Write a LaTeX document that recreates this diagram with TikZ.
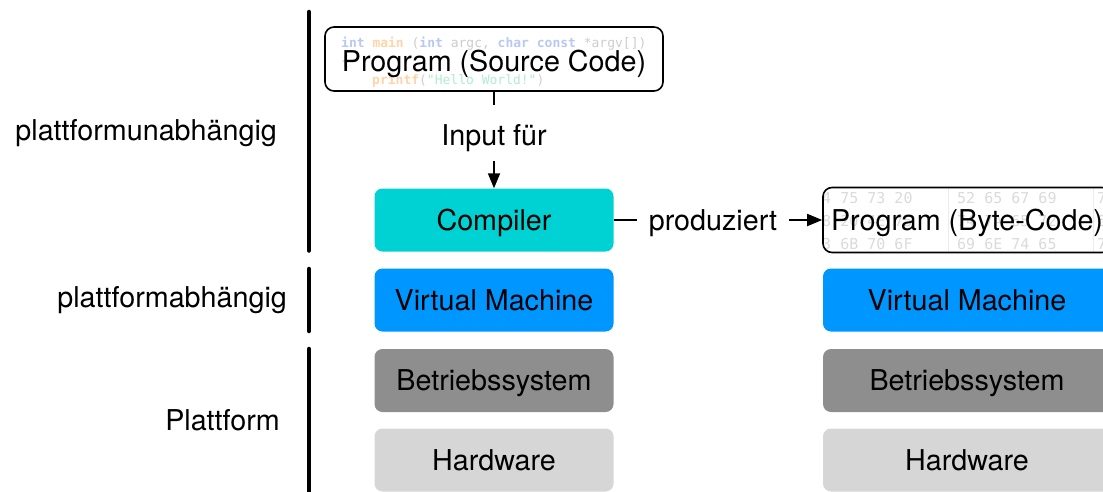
\documentclass[tikz,border=0pt]{standalone}
\usepackage{fontspec}
\setmainfont{TeX Gyre Heros}
\newfontfamily\codefont{DejaVu Sans Mono}
\usetikzlibrary{arrows.meta}

\definecolor{compilercol}{RGB}{0,210,211}
\definecolor{vmcol}{RGB}{0,150,255}
\definecolor{oscol}{RGB}{142,142,142}
\definecolor{hwcol}{RGB}{214,214,214}
\definecolor{kwblue}{RGB}{185,200,242}
\definecolor{kworange}{RGB}{255,212,168}
\definecolor{codegray}{RGB}{204,204,204}
\definecolor{strgreen}{RGB}{176,236,208}
\definecolor{hexgray}{RGB}{218,218,218}
\definecolor{sepgray}{RGB}{236,236,236}

\begin{document}
\begin{tikzpicture}[x=1pt,y=-1pt,
  bigtext/.style={font=\fontsize{28.7}{34}\selectfont, text height=20.6pt, text depth=0pt, inner sep=0pt},
  layer/.style={bigtext, rounded corners=8pt, minimum height=63pt},
  leftcol/.style={layer, minimum width=239pt},
  rightcol/.style={layer, minimum width=288pt},
  progbox/.style={bigtext, draw=black, line width=1.6pt, rounded corners=9pt},
  sidelabel/.style={bigtext, anchor=east},
  bar/.style={line width=4.5pt, line cap=round},
  conn/.style={line width=1.8pt},
  tip/.style={-{Triangle[length=15pt,width=12pt]}},
  code/.style={font=\codefont\fontsize{13}{15}\selectfont, inner sep=0pt, anchor=base west},
  hex/.style={font=\codefont\fontsize{15}{17}\selectfont, text=hexgray, inner sep=0pt, anchor=base west}
]
\useasboundingbox (0,0) rectangle (1103,491);
\clip (0,0) rectangle (1103,491);

% level brackets on the left
\draw[bar] (309,12) -- (309,250.5);
\draw[bar] (309,269) -- (309,331);
\draw[bar] (309,349) -- (309,493);

\node[sidelabel] (lindep) at (277,130) {plattformunabhängig};
\node[sidelabel] (ldep)   at (287,297) {plattformabhängig};
\node[sidelabel] (lplat)  at (280,420) {Plattform};

% faded source code behind the source program box
\begin{scope}
  \clip[rounded corners=9pt] (325,27) rectangle (663,91);
  \node[code] (code1) at (341,47) {\textcolor{kwblue}{\bfseries int} \textcolor{kworange}{\bfseries main} \textcolor{codegray}{(}\textcolor{kwblue}{\bfseries int} \textcolor{codegray}{argc,} \textcolor{kwblue}{\bfseries char const} \textcolor{codegray}{*argv[])}};
  \node[code] (code2) at (341,65.5) {\textcolor{codegray}{\{}};
  \node[code] (code3) at (372,84) {\textcolor{kworange}{\bfseries printf}\textcolor{codegray}{(}\textcolor{strgreen}{"Hello World!"}\textcolor{codegray}{)}};
\end{scope}
\node[progbox, minimum width=338pt, minimum height=64pt, text height=25.8pt] (src) at (494,59) {Program (Source Code)};

\node[bigtext] (input) at (494,135) {Input für};

% left stack
\node[leftcol, fill=compilercol] (comp) at (494,220)   {Compiler};
\node[leftcol, fill=vmcol]       (vmL)  at (494,300)   {Virtual Machine};
\node[leftcol, fill=oscol]       (osL)  at (494,380.5) {Betriebssystem};
\node[leftcol, fill=hwcol]       (hwL)  at (494,460)   {Hardware};

% right stack
\node[rightcol, fill=vmcol] (vmR) at (967,300)   {Virtual Machine};
\node[rightcol, fill=oscol] (osR) at (967,380.5) {Betriebssystem};
\node[rightcol, fill=hwcol] (hwR) at (967,460)   {Hardware};

% faded hex dump behind the byte-code program box
\begin{scope}
  \clip[rounded corners=9pt] (823,187.5) rectangle (1111,252.5);
  \draw[sepgray, line width=1pt] (948,180) -- (948,260);
  \draw[sepgray, line width=1pt] (1093,180) -- (1093,260);
  \node[hex] (h11) at (813,203.5) {74 75 73 20};
  \node[hex] (h12) at (957,203.5) {52 65 67 69};
  \node[hex] (h13) at (1097,203.5) {72};
  \node[hex] (h21) at (813,226.5) {68 20 4E 75};
  \node[hex] (h22) at (957,226.5) {74 7A 65 72};
  \node[hex] (h23) at (1097,226.5) {61};
  \node[hex] (h31) at (813,249.5) {73 6B 70 6F};
  \node[hex] (h32) at (957,249.5) {69 6E 74 65};
  \node[hex] (h33) at (1097,249.5) {72};
\end{scope}
\node[progbox, minimum width=288pt, minimum height=65pt] (byte) at (967,220) {Program (Byte-Code)};

% connectors
\draw[conn, shorten >=20pt] (src) -- (input);
\draw[conn, tip, shorten <=15.5pt] (input) -- (comp);

\node[bigtext] (prod) at (713,220) {produziert};
\draw[conn, shorten >=12pt] (comp) -- (prod);
\draw[conn, tip, shorten <=12pt] (prod) -- (byte);
\end{tikzpicture}
\end{document}
